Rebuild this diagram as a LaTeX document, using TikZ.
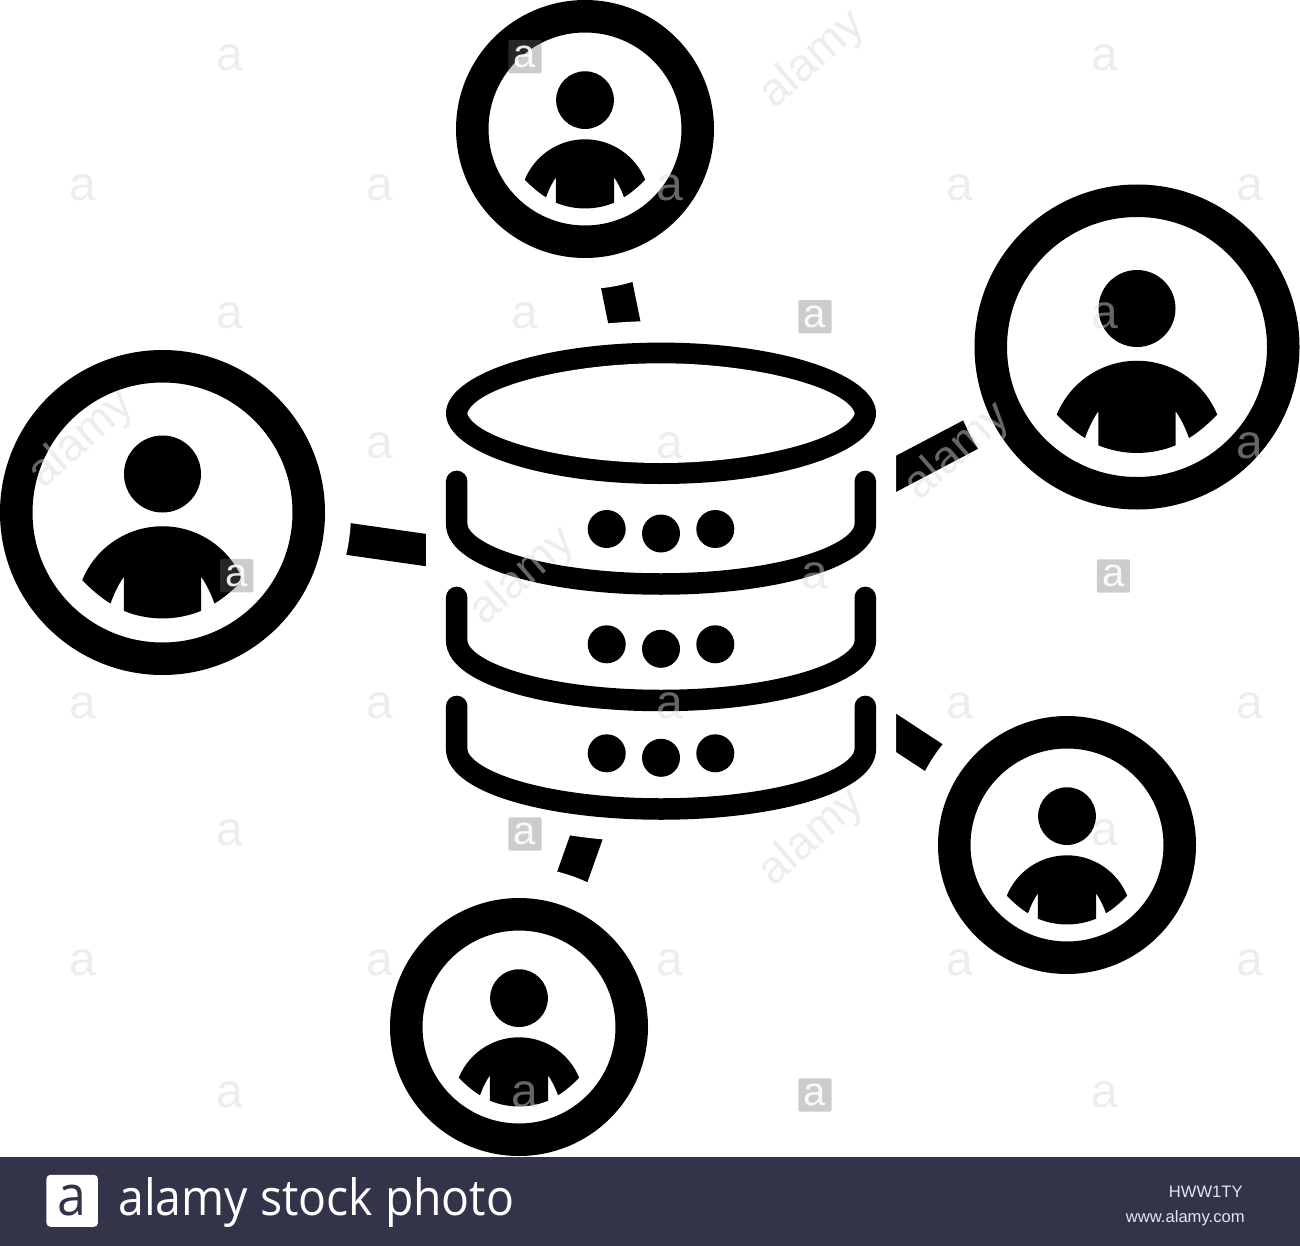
\documentclass[tikz,border=0pt]{standalone}
\usepackage{fontspec}
\setmainfont{Liberation Sans}
\newfontfamily\logofont[FakeStretch=.927]{Open Sans}
\usetikzlibrary{shapes.geometric}
\definecolor{footer}{HTML}{33334A}
\definecolor{footertext}{HTML}{E4E4EA}
\definecolor{wmgray}{HTML}{D9D9D9}
\definecolor{wmbox}{HTML}{6E6E6E}
\tikzset{biguser/.style={circle,draw=black,fill=white,line width=16.25pt,minimum size=146.25pt,inner sep=0pt,outer sep=0pt,preaction={draw=white,line width=42.25pt}},
 smalluser/.style={circle,draw=black,fill=white,line width=16.25pt,minimum size=112.75pt,inner sep=0pt,outer sep=0pt,preaction={draw=white,line width=47.25pt}},
 link/.style={draw=black,line width=16pt},
 tray/.style={draw=black,line width=10.75pt,line cap=round},
 wmtext/.style={text=wmgray,text opacity=.47,font=\fontsize{23}{23}\selectfont,inner sep=0pt},
 wmletter/.style={text=wmgray,text opacity=.47,font=\fontsize{24}{24}\selectfont,inner sep=0pt},
 wmsquare/.style={fill=wmbox,fill opacity=.35,text=white,text opacity=.9,rounded corners=1pt,minimum size=16.7pt,inner sep=0pt,font=\fontsize{20}{20}\selectfont},
 person/.pic={\fill (0,-38.5) circle (38.5);
  \fill (-80.3,67.7) arc[start angle=202.2,end angle=337.8,radius=86.7] .. controls (72,76) and (62,85) .. (52,91) .. controls (48,80) and (44,72) .. (38.7,64.3) -- (38.7,98.3) .. controls (14,108.5) and (-14,108.5) .. (-38.7,98.3) -- (-38.7,64.3) .. controls (-44,72) and (-48,80) .. (-52,91) .. controls (-62,85) and (-72,76) .. cycle;}}
\begin{document}
\begin{tikzpicture}[x=0.5pt,y=-0.5pt]
\useasboundingbox (0,0) rectangle (1300,1246);
\coordinate (tl) at (500,560.6);
\coordinate (tt) at (640.1,400);
\coordinate (tr) at (800,524.4);
\coordinate (tq) at (800,669.8);
\coordinate (tb) at (613.8,760);
\coordinate (ul) at (162.5,512.5);
\coordinate (ut) at (585,129);
\coordinate (ur) at (1137,347);
\coordinate (uq) at (1067,845);
\coordinate (ub) at (519,1027);
\draw[link] (ul)--(tl);\draw[link] (ut)--(tt);\draw[link] (ur)--(tr);
\draw[link] (uq)--(tq);\draw[link] (ub)--(tb);
\node[biguser] (userl) at (ul) {};
\node[biguser] (userr) at (ur) {};
\node[smalluser] (usert) at (ut) {};
\node[smalluser] (userq) at (uq) {};
\node[smalluser] (userb) at (ub) {};
\pic at (userl) {person};
\pic at (userr) {person};
\pic[scale=.75] at (usert) {person};
\pic[scale=.75] at (userq) {person};
\pic[scale=.75] at (userb) {person};
\fill[white] (426,413) arc[start angle=180,end angle=360,x radius=235,y radius=92] -- (896,757) arc[start angle=0,end angle=180,x radius=235,y radius=85] -- cycle;
\node[ellipse,fill=black,minimum width=215pt,minimum height=70.7pt,inner sep=0pt,outer sep=0pt] (dbtop) at (661,413.3) {};
\fill[white] (467.3,413.3) .. controls (475,388) and (565,363.3) .. (661,363.3) .. controls (757,363.3) and (847,388) .. (854.7,413.3) .. controls (847,438.6) and (757,463) .. (661,463) .. controls (565,463) and (475,438.6) .. cycle;
\draw[tray] (456.7,481.4)--(456.7,524) arc[start angle=180,end angle=0,x radius=204.3,y radius=60]--(865.3,481.4);
\draw[tray] (456.7,597.4)--(456.7,640.5) arc[start angle=180,end angle=0,x radius=204.3,y radius=60]--(865.3,597.4);
\draw[tray] (456.7,706.4)--(456.7,749) arc[start angle=180,end angle=0,x radius=204.3,y radius=60]--(865.3,706.4);
\foreach \y in {529,644.3,753.3} {\fill (606.7,\y) circle (19);\fill (661,\y+4.5) circle (19);\fill (715.3,\y) circle (19);}
\foreach \x/\y [count=\i] in {230/58,1105/58,83/188,380/188,670/188,960/188,1250/188,230/316,525/316,1105/316,380/446,670/446,1250/446,815/576,83/706,380/706,670/706,960/706,1250/706,230/833,1105/833,83/963,380/963,670/963,960/963,1250/963,230/1095,525/1095,1105/1095}
 \node[wmletter] (wmletter\i) at (\x,\y) {a};
\foreach \x/\y [count=\i] in {525/56.7,815/316.7,236.7/575.7,1113.5/576,525/834,815/1095}
 \node[wmsquare] (wmsquare\i) at (\x,\y) {a};
\node[wmtext,rotate=41] (wma) at (813,60) {alamy};
\node[wmtext,rotate=41] (wmb) at (82,440) {alamy};
\node[wmtext,rotate=41] (wmc) at (523,577) {alamy};
\node[wmtext,rotate=41] (wmd) at (958,452) {alamy};
\node[wmtext,rotate=41] (wme) at (812,838) {alamy};
\fill[footer] (0,1157) rectangle (1300,1246);
\node[fill=white,rounded corners=2pt,minimum width=25.75pt,minimum height=26pt,inner sep=0pt,text=footer,font=\logofont\fontsize{28}{28}\selectfont] (logo) at (72.2,1200.8) {a};
\node[anchor=base west,text=white,inner sep=0pt,font=\logofont\fontsize{25}{25}\selectfont] (brand) at (118,1215) {alamy stock photo};
\node[anchor=base east,text=footertext,inner sep=0pt,font=\fontsize{8.3}{8.3}\selectfont] (code) at (1243,1197.5) {HWW1TY};
\node[anchor=base east,text=footertext,inner sep=0pt,font=\fontsize{8.3}{8.3}\selectfont] (site) at (1245,1222.3) {www.alamy.com};
\end{tikzpicture}
\end{document}
